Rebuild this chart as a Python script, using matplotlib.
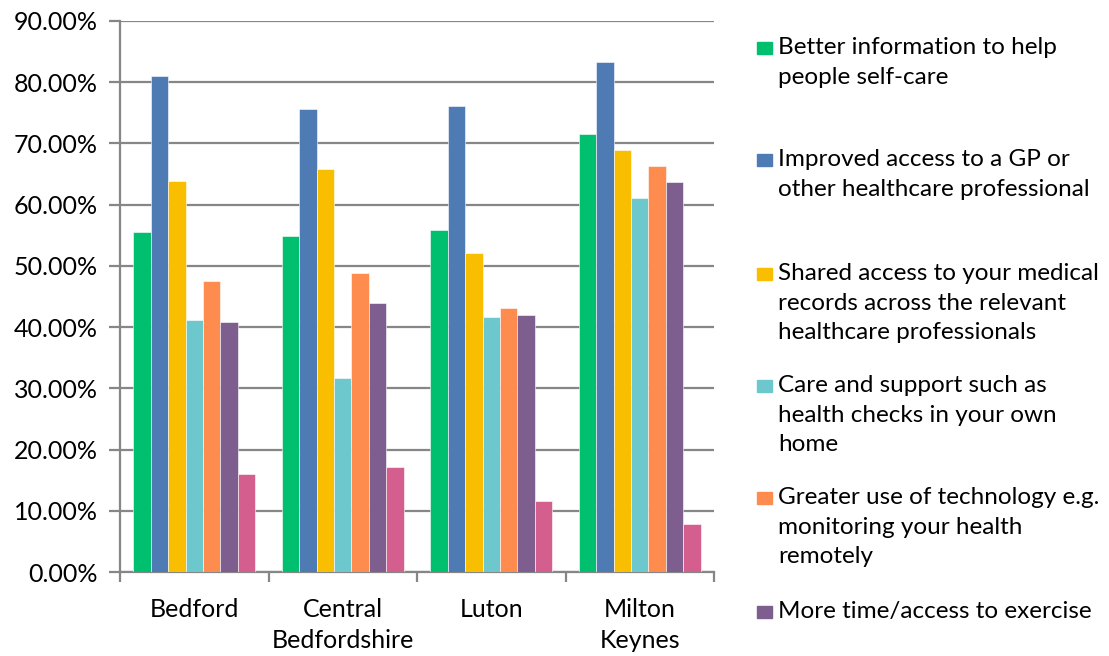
import numpy as np
import matplotlib
matplotlib.use("Agg")
import matplotlib.pyplot as plt
from matplotlib.patches import Rectangle
from matplotlib.ticker import PercentFormatter

plt.rcParams['font.family'] = ['Lato', 'DejaVu Sans']

# Areas (x categories)
areas = ["Bedford", "Central\nBedfordshire", "Luton", "Milton\nKeynes"]

# One list per option, percentages for each area
better_info = [55.5, 54.9, 55.9, 71.5]
gp_access = [81.0, 75.7, 76.1, 83.3]
shared_records = [63.9, 65.8, 52.1, 68.9]
care_home = [41.2, 31.7, 41.6, 61.1]
technology = [47.5, 48.8, 43.1, 66.3]
exercise = [40.8, 43.9, 42.0, 63.7]
other = [16.0, 17.1, 11.6, 7.8]

series = [better_info, gp_access, shared_records, care_home, technology, exercise, other]
labels = [
    "Better information to help\npeople self-care",
    "Improved access to a GP or\nother healthcare professional",
    "Shared access to your medical\nrecords across the relevant\nhealthcare professionals",
    "Care and support such as\nhealth checks in your own\nhome",
    "Greater use of technology e.g.\nmonitoring your health\nremotely",
    "More time/access to exercise",
    "Other",
]
colors = ["#00BF6F", "#4F7BB5", "#F9BE00", "#6CC8CC", "#FF8C4F", "#7D5E8F", "#D45F8E"]

W, H = 1109, 656
fig = plt.figure(figsize=(W / 100, H / 100), dpi=100)
ax = fig.add_axes([120 / W, 1 - 572 / H, (714 - 120) / W, (572 - 21) / H])

x = np.arange(len(areas))
bw = 0.1175
n = len(series)
for i, vals in enumerate(series):
    off = (i - (n - 1) / 2) * bw
    ax.bar(x + off, vals, width=bw, color=colors[i], edgecolor="white",
           linewidth=0.4, zorder=3)

grid_c = "#868686"
ax.set_ylim(0, 90)
ax.set_xlim(-0.5, len(areas) - 0.5)
ax.set_yticks(np.arange(0, 91, 10))
ax.yaxis.set_major_formatter(PercentFormatter(decimals=2))
ax.grid(axis="y", color=grid_c, linewidth=1.6, zorder=0)
for s in ["top", "right"]:
    ax.spines[s].set_visible(False)
for s in ["left", "bottom"]:
    ax.spines[s].set_color(grid_c)
    ax.spines[s].set_linewidth(1.6)

ax.set_xticks(np.arange(-0.5, len(areas)), minor=False)
ax.set_xticklabels([])
ax.set_xticks(x, minor=True)
ax.set_xticklabels(areas, minor=True, fontsize=18, linespacing=1.42)
ax.tick_params(axis="x", which="major", length=7, width=1.6, color=grid_c)
ax.tick_params(axis="x", which="minor", length=0, pad=19)
ax.tick_params(axis="y", length=8, width=1.6, color=grid_c, labelsize=18, pad=8)

# legend drawn by hand so entries sit in fixed slots like the original
ys = [48, 160, 274, 386, 498, 612]
for i in range(6):
    y = ys[i]
    fig.patches.append(Rectangle((757 / W, 1 - (y + 6) / H), 15 / W, 12 / H,
                                 transform=fig.transFigure, color=colors[i]))
    fig.text(778 / W, 1 - (y - 11) / H, labels[i], fontsize=17.5, va="top",
             ha="left", linespacing=1.5)

fig.savefig("out.png", dpi=100)
